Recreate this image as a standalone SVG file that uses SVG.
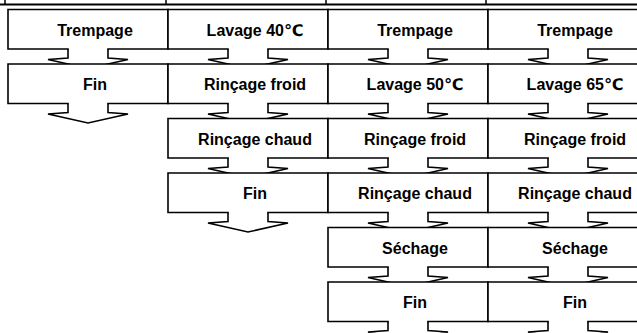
<svg xmlns="http://www.w3.org/2000/svg" xmlns:xlink="http://www.w3.org/1999/xlink" width="637" height="333" viewBox="0 0 637 333">
<style>
.ln{fill:#fff;stroke:#000;stroke-width:1.6;stroke-linejoin:miter;stroke-linecap:square}
.t{font-family:"Liberation Sans",Arial,"DejaVu Sans",sans-serif;font-weight:bold;font-size:16px;fill:#000;text-anchor:middle}
.tb{fill:none;stroke:#000}
</style>
<defs>
<path id="box" class="ln" d="M-20,39.5 H-80 V0 H80 V39.5 H20"/>
<path id="arr" class="ln" d="M-20,0 V9 L-40,10.5 L0,19.5 L40,10.5 L20,9 V0"/>
</defs>
<rect x="0" y="0" width="637" height="333" fill="#fff"/>
<g id="table-top">
<path class="tb" stroke-width="2" d="M0,4.5 H637"/>
<path class="tb" stroke-width="1.5" d="M5,0 V4 M166,0 V4 M326,0 V4 M486,0 V4"/>
</g>
<g id="connectors">
<use xlink:href="#arr" x="88" y="49"/>
<use xlink:href="#arr" x="88" y="103.5"/>
<use xlink:href="#arr" x="248" y="49"/>
<use xlink:href="#arr" x="248" y="103.5"/>
<use xlink:href="#arr" x="248" y="158"/>
<use xlink:href="#arr" x="248" y="212.5"/>
<use xlink:href="#arr" x="408" y="49"/>
<use xlink:href="#arr" x="408" y="103.5"/>
<use xlink:href="#arr" x="408" y="158"/>
<use xlink:href="#arr" x="408" y="212.5"/>
<use xlink:href="#arr" x="408" y="267"/>
<use xlink:href="#arr" x="408" y="321.5"/>
<use xlink:href="#arr" x="568" y="49"/>
<use xlink:href="#arr" x="568" y="103.5"/>
<use xlink:href="#arr" x="568" y="158"/>
<use xlink:href="#arr" x="568" y="212.5"/>
<use xlink:href="#arr" x="568" y="267"/>
<use xlink:href="#arr" x="568" y="321.5"/>
</g>
<g id="c1-trempage"><use xlink:href="#box" x="88" y="9.5"/><text class="t" x="95" y="35.5">Trempage</text></g>
<g id="c1-fin"><use xlink:href="#box" x="88" y="64"/><text class="t" x="95" y="90">Fin</text></g>
<g id="c2-lavage40"><use xlink:href="#box" x="248" y="9.5"/><text class="t" x="255" y="35.5">Lavage 40℃</text></g>
<g id="c2-rincage-froid"><use xlink:href="#box" x="248" y="64"/><text class="t" x="255" y="90">Rinçage froid</text></g>
<g id="c2-rincage-chaud"><use xlink:href="#box" x="248" y="118.5"/><text class="t" x="255" y="144.5">Rinçage chaud</text></g>
<g id="c2-fin"><use xlink:href="#box" x="248" y="173"/><text class="t" x="255" y="199">Fin</text></g>
<g id="c3-trempage"><use xlink:href="#box" x="408" y="9.5"/><text class="t" x="415" y="35.5">Trempage</text></g>
<g id="c3-lavage50"><use xlink:href="#box" x="408" y="64"/><text class="t" x="415" y="90">Lavage 50℃</text></g>
<g id="c3-rincage-froid"><use xlink:href="#box" x="408" y="118.5"/><text class="t" x="415" y="144.5">Rinçage froid</text></g>
<g id="c3-rincage-chaud"><use xlink:href="#box" x="408" y="173"/><text class="t" x="415" y="199">Rinçage chaud</text></g>
<g id="c3-sechage"><use xlink:href="#box" x="408" y="227.5"/><text class="t" x="415" y="253.5">Séchage</text></g>
<g id="c3-fin"><use xlink:href="#box" x="408" y="282"/><text class="t" x="415" y="308">Fin</text></g>
<g id="c4-trempage"><use xlink:href="#box" x="568" y="9.5"/><text class="t" x="575" y="35.5">Trempage</text></g>
<g id="c4-lavage65"><use xlink:href="#box" x="568" y="64"/><text class="t" x="575" y="90">Lavage 65℃</text></g>
<g id="c4-rincage-froid"><use xlink:href="#box" x="568" y="118.5"/><text class="t" x="575" y="144.5">Rinçage froid</text></g>
<g id="c4-rincage-chaud"><use xlink:href="#box" x="568" y="173"/><text class="t" x="575" y="199">Rinçage chaud</text></g>
<g id="c4-sechage"><use xlink:href="#box" x="568" y="227.5"/><text class="t" x="575" y="253.5">Séchage</text></g>
<g id="c4-fin"><use xlink:href="#box" x="568" y="282"/><text class="t" x="575" y="308">Fin</text></g>
</svg>
